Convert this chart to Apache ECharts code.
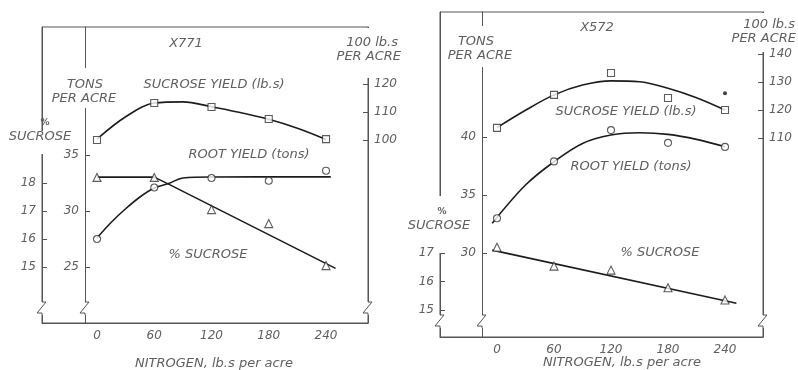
<!DOCTYPE html>
<html><head><meta charset="utf-8">
<script src="https://cdn.jsdelivr.net/npm/echarts@6/dist/echarts.min.js"></script>
<style>html,body{margin:0;padding:0;background:#fff}#c{width:798px;height:370px}</style>
</head><body><div id="c"></div>
<script>
// ---------- data ----------
const nitrogen = [0, 60, 120, 180, 240];
const xTickLabels = [0, 60, 120, 180, 240];

// X771 (left panel)
const x771SucroseYieldObs = [100.0, 113.2, 111.8, 107.5, 100.3];   // 100 lb.s per acre
const x771RootYieldObs    = [27.5, 32.1, 32.95, 32.7, 33.6];       // tons per acre
const x771PctSucroseObs   = [18.2, 18.2, 17.05, 16.55, 15.05];     // % sucrose
const x771SucroseYieldCurveN = [0, 30, 60, 90, 120, 150, 180, 210, 240];
const x771SucroseYieldCurve  = [100.3, 108.3, 113.2, 113.6, 111.9, 109.8, 107.4, 104.2, 100.2];
const x771RootYieldCurveN = [0, 15, 30, 45, 60, 75, 90, 120, 245];
const x771RootYieldCurve  = [27.6, 29.0, 30.2, 31.25, 32.05, 32.45, 32.95, 33.04, 33.05];
const x771PctSucroseCurveN = [0, 60, 75, 250];
const x771PctSucroseCurve  = [18.21, 18.21, 17.96, 14.95];
const x771TonsTicks = [25, 30, 35];
const x771PctTicks = [15, 16, 17, 18];
const x771LbsTicks = [100, 110, 120];

// X572 (right panel)
const x572SucroseYieldObs = [113.6, 125.4, 133.2, 124.3, 120.0];
const x572ExtraDotN = [240];
const x572ExtraDot  = [126.0];
const x572RootYieldObs    = [33.0, 37.9, 40.6, 39.5, 39.15];
const x572PctSucroseObs   = [17.2, 16.54, 16.4, 15.78, 15.35];
const x572SucroseYieldCurveN = [0, 30, 60, 90, 120, 150, 180, 210, 240];
const x572SucroseYieldCurve  = [113.7, 119.9, 125.4, 128.9, 130.4, 130.1, 127.8, 124.4, 120.0];
const x572RootYieldCurveN = [-5, 30, 60, 90, 120, 150, 180, 210, 240];
const x572RootYieldCurve  = [32.56, 35.86, 37.87, 39.45, 40.17, 40.37, 40.23, 39.8, 39.16];
const x572PctSucroseCurveN = [-5, 252];
const x572PctSucroseCurve  = [17.1, 15.24];
const x572TonsTicks = [30, 35, 40];
const x572PctTicks = [15, 16, 17];
const x572LbsTicks = [110, 120, 130, 140];

// ---------- chart ----------
const LINE = '#1c1c1c', FRAME = '#555', TXT = '#606060', FONT = 'DejaVu Sans';
const pairs = (xs, ys) => xs.map((x, i) => [x, ys[i]]);

function xAx(gridIndex, min, max) {
  return { type: 'value', gridIndex, min, max, position: 'bottom',
    splitLine: { show: false },
    axisLine: { show: true, onZero: false, lineStyle: { color: FRAME, width: 1 } },
    axisTick: { show: false },
    axisLabel: { customValues: xTickLabels, color: TXT, fontFamily: FONT, fontStyle: 'italic', fontSize: 12, margin: 7 } };
}
function yAx(gridIndex, position, offset, min, max, ticks) {
  return { type: 'value', gridIndex, position, offset, min, max,
    splitLine: { show: false },
    axisLine: { show: true, onZero: false, lineStyle: { color: FRAME, width: 1 } },
    axisTick: { show: true, inside: true, length: 5, customValues: ticks, lineStyle: { color: FRAME } },
    axisLabel: { customValues: ticks, color: TXT, fontFamily: FONT, fontStyle: 'italic', fontSize: 12, margin: 6 } };
}
function curve(xi, yi, xs, ys) {
  return { type: 'line', xAxisIndex: xi, yAxisIndex: yi, data: pairs(xs, ys), smooth: 0.35,
    symbol: 'none', lineStyle: { color: LINE, width: 1.6 }, z: 3 };
}
function marks(xi, yi, ys, symbol, size) {
  return { type: 'scatter', xAxisIndex: xi, yAxisIndex: yi, data: pairs(nitrogen, ys), symbol, symbolSize: size,
    itemStyle: { color: '#fff', borderColor: '#333', borderWidth: 1.1 }, z: 5 };
}

const txtStyle = (s) => Object.assign({ fill: TXT, font: 'italic 13px "' + FONT + '"', textAlign: 'center', textVerticalAlign: 'middle' }, s);
const label = (text, x, y, extra) => ({ type: 'text', x, y, z: 60, style: txtStyle(Object.assign({ text }, extra || {})) });
const gap = (x, y1, y2) => ({ type: 'rect', z: 50, shape: { x: x - 2, y: y1, width: 4, height: y2 - y1 }, style: { fill: '#fff' } });
function brk(x, y0) {
  return [
    { type: 'rect', z: 50, shape: { x: x - 2, y: y0, width: 4, height: 13 }, style: { fill: '#fff' } },
    { type: 'polyline', z: 55, shape: { points: [[x, y0], [x + 4, y0], [x - 5, y0 + 11], [x, y0 + 11], [x, y0 + 13]] },
      style: { stroke: FRAME, lineWidth: 1, fill: null } }
  ];
}

const option = {
  animation: false,
  backgroundColor: '#fff',
  grid: [
    { left: 42, top: 27, width: 326, height: 296, show: true, borderColor: FRAME, borderWidth: 1, backgroundColor: 'transparent' },
    { left: 440, top: 12, width: 323, height: 325, show: true, borderColor: FRAME, borderWidth: 1, backgroundColor: 'transparent' }
  ],
  xAxis: [ xAx(0, -57.64, 284.0), xAx(1, -60, 280) ],
  yAxis: [
    yAx(0, 'left', 0, 13, 23.571, x771PctTicks),
    yAx(0, 'left', -43, 20, 46.43, x771TonsTicks),
    yAx(0, 'right', 0, 34.64, 140.36, x771LbsTicks),
    yAx(1, 'left', 0, 14.053, 25.456, x572PctTicks),
    yAx(1, 'left', -42, 22.76, 50.78, x572TonsTicks),
    yAx(1, 'right', 0, 38.93, 155.0, x572LbsTicks)
  ],
  series: [
    curve(0, 2, x771SucroseYieldCurveN, x771SucroseYieldCurve),
    curve(0, 1, x771RootYieldCurveN, x771RootYieldCurve),
    Object.assign(curve(0, 0, x771PctSucroseCurveN, x771PctSucroseCurve), { smooth: false }),
    marks(0, 2, x771SucroseYieldObs, 'rect', 7),
    marks(0, 1, x771RootYieldObs, 'circle', 7),
    marks(0, 0, x771PctSucroseObs, 'triangle', 8),

    curve(1, 5, x572SucroseYieldCurveN, x572SucroseYieldCurve),
    curve(1, 4, x572RootYieldCurveN, x572RootYieldCurve),
    Object.assign(curve(1, 3, x572PctSucroseCurveN, x572PctSucroseCurve), { smooth: false }),
    marks(1, 5, x572SucroseYieldObs, 'rect', 7),
    marks(1, 4, x572RootYieldObs, 'circle', 7),
    marks(1, 3, x572PctSucroseObs, 'triangle', 8),
    { type: 'scatter', xAxisIndex: 1, yAxisIndex: 5, data: pairs(x572ExtraDotN, x572ExtraDot), symbol: 'circle', symbolSize: 4,
      itemStyle: { color: '#111' }, z: 5 }
  ],
  graphic: [
    gap(42, 131, 154), gap(85, 68, 108), gap(368, 28, 78),
    gap(440, 196, 253), gap(482, 26, 67), gap(763, 13, 52),
    ...brk(42, 302), ...brk(85, 302), ...brk(368, 302),
    ...brk(440, 315), ...brk(482, 315), ...brk(763, 315),
    label('X771', 186, 44),
    label('100 lb.s', 398, 43, { textAlign: 'right' }),
    label('PER ACRE', 401, 57, { textAlign: 'right' }),
    label('TONS', 85, 85),
    label('PER ACRE', 84, 99),
    label('SUCROSE YIELD (lb.s)', 214, 85),
    label('%', 45, 123, { font: 'bold 9px "' + FONT + '"' }),
    label('SUCROSE', 40, 137),
    label('ROOT YIELD (tons)', 249, 155),
    label('% SUCROSE', 208, 255),
    label('NITROGEN, lb.s per acre', 214, 364),
    label('X572', 597, 28),
    label('100 lb.s', 795, 25, { textAlign: 'right' }),
    label('PER ACRE', 796, 39, { textAlign: 'right' }),
    label('TONS', 476, 42),
    label('PER ACRE', 480, 56),
    label('SUCROSE YIELD (lb.s)', 626, 112),
    label('ROOT YIELD (tons)', 631, 167),
    label('%', 442, 212, { font: 'bold 9px "' + FONT + '"' }),
    label('SUCROSE', 439, 226),
    label('% SUCROSE', 660, 253),
    label('NITROGEN, lb.s per acre', 622, 363)
  ]
};

const chart = echarts.init(document.getElementById('c'), null, { renderer: 'canvas' });
chart.setOption(option);
</script>
</body></html>
